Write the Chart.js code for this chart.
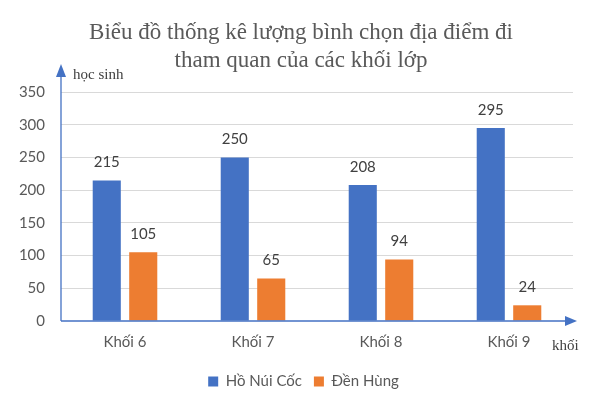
<!DOCTYPE html>
<html>
<head>
<meta charset="utf-8">
<script src="https://cdn.jsdelivr.net/npm/chart.js@4"></script>
<style>
  html, body { margin: 0; padding: 0; background: #fff; }
  #wrap { width: 597px; height: 400px; }
</style>
</head>
<body>
<div id="wrap"><canvas id="bieu-do" width="597" height="400"></canvas></div>
<script>
const khoi = ['Khối 6', 'Khối 7', 'Khối 8', 'Khối 9'];
const hoNuiCoc = [215, 250, 208, 295];
const denHung = [105, 65, 94, 24];
const nhanTrucY = [0, 50, 100, 150, 200, 250, 300, 350];

const xanh = '#4472C4';
const cam = '#ED7D31';
const chuSans = "Lato, 'Open Sans', sans-serif";
const chuSerif = "'Liberation Serif', 'DejaVu Serif', serif";

// mui ten cho truc, ten truc va so tren cot
const veTruc = {
  id: 'veTruc',
  afterLayout(chart) {
    // tieu de va chu thich hoi lech phai nhu ban goc
    if (chart.titleBlock) chart.titleBlock.left = 29;
    if (chart.legend) chart.legend.left = 34;
  },
  afterDatasetsDraw(chart) {
    const { ctx, chartArea } = chart;
    const x0 = chartArea.left;
    const y0 = chartArea.bottom;
    ctx.save();
    ctx.strokeStyle = xanh;
    ctx.fillStyle = xanh;
    ctx.lineWidth = 1.3;

    ctx.beginPath();
    ctx.moveTo(x0, y0);
    ctx.lineTo(x0, chartArea.top - 18);
    ctx.moveTo(x0, y0);
    ctx.lineTo(chartArea.right - 4, y0);
    ctx.stroke();

    ctx.beginPath();
    ctx.moveTo(x0, chartArea.top - 28);
    ctx.lineTo(x0 - 5, chartArea.top - 15);
    ctx.lineTo(x0 + 5, chartArea.top - 15);
    ctx.closePath();
    ctx.fill();

    ctx.beginPath();
    ctx.moveTo(chartArea.right + 4, y0);
    ctx.lineTo(chartArea.right - 8, y0 - 5);
    ctx.lineTo(chartArea.right - 8, y0 + 5);
    ctx.closePath();
    ctx.fill();

    ctx.fillStyle = '#404040';
    ctx.font = '15px ' + chuSerif;
    ctx.textAlign = 'left';
    ctx.textBaseline = 'middle';
    ctx.fillText('học sinh', x0 + 12, chartArea.top - 17);
    ctx.fillText('khối', chartArea.right - 21, y0 + 25);

    ctx.font = '15px ' + chuSans;
    ctx.fillStyle = '#404040';
    ctx.textAlign = 'center';
    chart.data.datasets.forEach((ds, i) => {
      chart.getDatasetMeta(i).data.forEach((bar, j) => {
        ctx.fillText(String(ds.data[j]), bar.x, bar.y - 18);
      });
    });
    ctx.restore();
  }
};

new Chart(document.getElementById('bieu-do'), {
  type: 'bar',
  data: {
    labels: khoi,
    datasets: [
      { label: 'Hồ Núi Cốc', data: hoNuiCoc, backgroundColor: xanh },
      { label: 'Đền Hùng', data: denHung, backgroundColor: cam }
    ]
  },
  options: {
    responsive: false,
    animation: false,
    devicePixelRatio: 1,
    layout: { padding: { left: 0, right: 24, top: 0, bottom: 1 } },
    datasets: {
      bar: { barPercentage: 0.77, categoryPercentage: 0.57 }
    },
    plugins: {
      title: {
        display: true,
        text: ['Biểu đồ thống kê lượng bình chọn địa điểm đi', 'tham quan của các khối lớp'],
        color: '#595959',
        font: { size: 23, family: chuSerif, weight: 'normal', lineHeight: 1.22 },
        padding: { top: 19, bottom: 17 }
      },
      legend: {
        display: true,
        position: 'bottom',
        labels: {
          color: '#595959',
          font: { size: 15, family: chuSans },
          boxWidth: 10,
          boxHeight: 10,
          padding: 12
        }
      },
      tooltip: { enabled: false }
    },
    scales: {
      x: {
        grid: { display: false },
        border: { display: false },
        ticks: { color: '#595959', font: { size: 15, family: chuSans }, padding: 4 },
        afterFit(scale) { scale.height = 41; }
      },
      y: {
        min: 0,
        max: 350,
        afterBuildTicks(scale) { scale.ticks = nhanTrucY.map((v) => ({ value: v })); },
        grid: {
          color: (c) => (c.tick && c.tick.value === 0 ? 'rgba(0,0,0,0)' : '#d9d9d9'),
          drawTicks: false
        },
        border: { display: false },
        ticks: { color: '#595959', font: { size: 15, family: chuSans }, padding: 16 },
        afterFit(scale) { scale.width = 61; }
      }
    }
  },
  plugins: [veTruc]
});
</script>
</body>
</html>
